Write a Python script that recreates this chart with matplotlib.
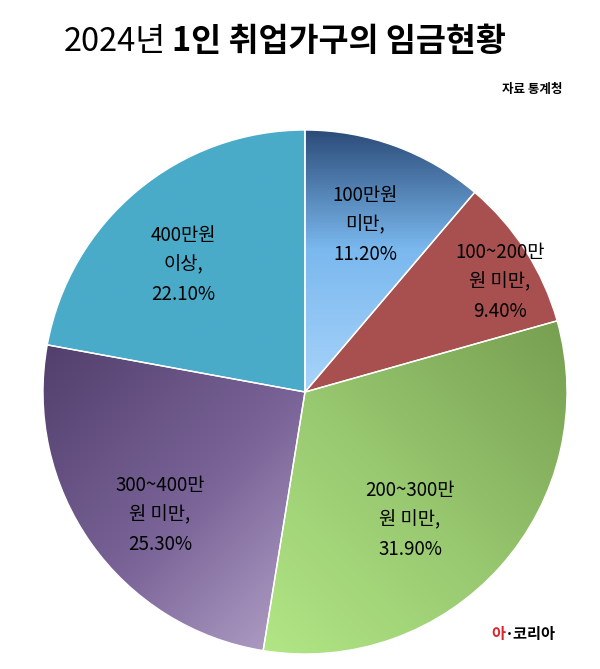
import matplotlib
matplotlib.use("Agg")
import matplotlib.pyplot as plt
import numpy as np
from matplotlib.colors import LinearSegmentedColormap
from matplotlib import font_manager

names = {f.name for f in font_manager.fontManager.ttflist}
fam = next((n for n in ["Noto Sans CJK KR", "Noto Sans CJK JP", "Noto Sans CJK SC", "Noto Sans CJK TC"] if n in names), "DejaVu Sans")
plt.rcParams["font.family"] = [fam, "DejaVu Sans"]

categories = ["100만원\n미만,", "100~200만\n원 미만,", "200~300만\n원 미만,", "300~400만\n원 미만,", "400만원\n이상,"]
values = [11.2, 9.4, 31.9, 25.3, 22.1]
pct_labels = ["11.20%", "9.40%", "31.90%", "25.30%", "22.10%"]

grads = [
    (["#f2eafa", "#f0e8f8", "#a8d4fa", "#7ab8ee", "#1b3560"], 90),
    (["#a8504f", "#a8504f"], 0),
    (["#baf08c", "#98c870", "#6f9548"], 45),
    (["#d6c8e4", "#7a6498", "#45335e"], 135),
    (["#4aabc9", "#4aabc9"], 0),
]
label_px = [(365, 225), (500, 282), (410, 520), (160, 515), (183, 265)]

W, H = 600, 669
fig = plt.figure(figsize=(W/100, H/100), dpi=100)
cx, cy, R = 305, 392, 262
ax = fig.add_axes([(cx-R)/W, (H-cy-R)/H, 2*R/W, 2*R/H])

wedges, _ = ax.pie(values, startangle=90, counterclock=False, radius=1,
                   wedgeprops=dict(edgecolor="white", linewidth=1))
n = 400
yy, xx = np.mgrid[-1:1:n*1j, -1:1:n*1j]
for w, (cols, ang) in zip(wedges, grads):
    w.set_facecolor("none")
    a = np.deg2rad(ang)
    t = (xx*np.cos(a) + yy*np.sin(a) + 1.1) / 2.2
    cmap = LinearSegmentedColormap.from_list("g", cols)
    im = ax.imshow(t, cmap=cmap, extent=[-1, 1, -1, 1], origin="lower", vmin=0, vmax=1, zorder=0)
    im.set_clip_path(w)

ax.set_xlim(-1, 1); ax.set_ylim(-1, 1); ax.set_aspect("equal"); ax.axis("off")

for (px, py), c, p in zip(label_px, categories, pct_labels):
    ax.text((px-cx)/R, (cy-py)/R, c + "\n" + p, ha="center", va="center",
            fontsize=13.5, linespacing=1.55, color="black", zorder=5)

fig.text(166/W, 1-42/H, "2024년", ha="right", va="center", fontsize=23.5)
fig.text(172/W, 1-42/H, "1인 취업가구의 임금현황", ha="left", va="center", fontsize=23.5, fontweight="bold")
fig.text(562/W, 1-90/H, "자료 통계청", ha="right", va="center", fontsize=9, fontweight="bold")
fig.text(505/W, 1-634/H, "아", ha="right", va="center", fontsize=11, fontweight="bold", color="#d8242a")
fig.text(505/W, 1-634/H, "·코리아", ha="left", va="center", fontsize=11, fontweight="bold", color="black")

fig.savefig("out.png", dpi=100)
